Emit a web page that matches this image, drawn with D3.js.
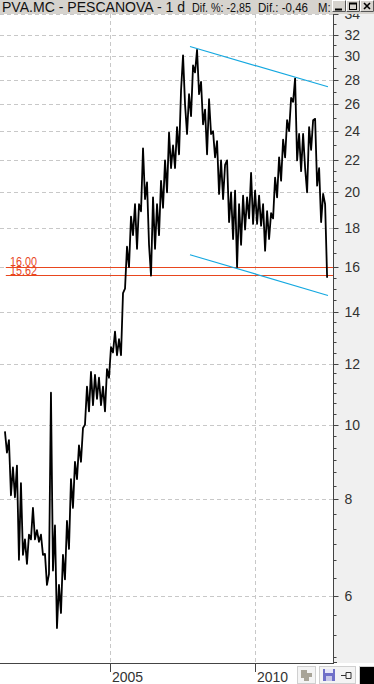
<!DOCTYPE html>
<html>
<head>
<meta charset="utf-8">
<script src="https://cdn.jsdelivr.net/npm/d3@7"></script>
<style>
	body { margin: 0; background: #fff; overflow: hidden; }
	svg { display: block; font-family: "Liberation Sans", Arial, sans-serif; }
</style>
</head>
<body>
<div id="chart"></div>
<script>
// PVA.MC daily closes, sampled roughly every 25 days
const firstDate		= new Date(2001, 4, 19);
const stepDays		= 25.2;
const closes		= [
	9.8, 9.2, 9.55, 8.1, 8.8, 8.05, 8.85, 6.68, 8.4, 6.78,
	7.1, 6.6, 7.2, 7.1, 7.8, 7.1, 7.3, 7.05, 7.2, 6.78,
	6.8, 6.2, 6.4, 11.0, 6.47, 7.4, 5.45, 6.2, 5.7, 6.78,
	6.3, 7.5, 6.9, 8.5, 7.8, 8.95, 8.5, 9.4, 8.95, 9.9,
	10.0, 11.2, 10.4, 11.7, 10.6, 11.6, 10.8, 11.5, 10.6, 11.2,
	10.4, 11.8, 11.5, 12.6, 12.4, 13.2, 12.3, 12.9, 12.3, 14.8,
	15.0, 17.0, 16.0, 18.6, 17.6, 19.3, 16.9, 19.3, 18.9, 22.8,
	19.6, 20.6, 17.1, 15.6, 19.7, 16.9, 19.3, 17.6, 20.7, 19.1,
	22.0, 20.0, 23.9, 21.5, 23.0, 21.5, 24.3, 22.4, 27.1, 30.1,
	26.0, 23.8, 26.8, 25.1, 29.2, 28.6, 30.6, 26.8, 27.8, 24.5,
	25.6, 22.4, 26.4, 23.8, 24.0, 22.2, 23.3, 19.9, 22.0, 19.6,
	21.7, 22.0, 18.3, 20.0, 17.4, 20.1, 16.0, 19.3, 17.1, 19.8,
	17.9, 19.7, 18.5, 21.2, 18.2, 20.1, 18.2, 19.8, 18.1, 19.3,
	16.8, 18.9, 17.4, 18.8, 18.5, 20.9, 19.7, 22.2, 20.7, 23.4,
	22.2, 24.8, 24.0, 26.5, 26.2, 28.1, 22.0, 23.8, 21.3, 23.8,
	21.5, 20.0, 24.3, 22.7, 24.8, 24.9, 20.4, 21.5, 18.3, 19.9,
	19.3, 15.5
];

const yMajor		= [6, 8, 10, 12, 14, 16, 18, 20, 22, 24, 26, 28, 30, 32, 34];
const yMinor		= [5, 5.33, 5.67, 6.33, 6.67, 7, 7.33, 7.67, 8.33, 8.67, 9, 9.33, 9.67,
	10.33, 10.67, 11, 11.33, 11.67, 12.4, 12.8, 13.2, 13.6, 14.5, 15, 15.5,
	16.67, 17.33, 18.67, 19.33, 20.67, 21.33, 23, 25, 27, 29, 31, 33];
const xYears		= [2005, 2010];

const levels		= [16.00, 15.62];
const levelLabels	= ['16.00', '15.62'];
const levelStart	= new Date(2001, 4, 30);

const channelDates	= [new Date(2007, 9, 5), new Date(2012, 6, 8)];
const channelUpper	= [30.9, 27.4];
const channelLower	= [16.6, 14.7];

const titleParts	= ['PVA.MC - PESCANOVA - 1 d', 'Dif. %: -2,85', 'Dif.: -0,46', 'M: 1'];

const W = 374, H = 684;
const plotRight = 333, plotBottom = 663, barH = 14;

let svg = d3.select('#chart').append('svg')
	.attr('width', W)
	.attr('height', H);

let x = d3.scaleTime().domain([new Date(2005, 0, 1), new Date(2010, 0, 1)]).range([110, 255]);
let y = d3.scaleLog().domain([4.91, 35.5]).range([plotBottom, 0]);

svg.append('rect').attr('width', W).attr('height', H).attr('fill', '#fff');

// right axis panel
svg.append('rect')
	.attr('x', plotRight + 1).attr('y', 0)
	.attr('width', W - plotRight - 1).attr('height', plotBottom)
	.attr('fill', '#f0f0f0');

svg.append('clipPath').attr('id', 'plot-clip')
	.append('rect').attr('x', 0).attr('y', 0).attr('width', plotRight).attr('height', plotBottom);

let plot = svg.append('g').attr('clip-path', 'url(#plot-clip)');

// grid
plot.append('g').selectAll('line')
	.data(yMajor).enter().append('line')
	.attr('x1', 0).attr('x2', plotRight)
	.attr('y1', (d) => Math.round(y(d)) + 0.5).attr('y2', (d) => Math.round(y(d)) + 0.5)
	.attr('stroke', '#c8c8c8').attr('stroke-dasharray', '4,3');

plot.append('g').selectAll('line')
	.data(xYears).enter().append('line')
	.attr('x1', (d) => Math.round(x(new Date(d, 0, 1))) + 0.5)
	.attr('x2', (d) => Math.round(x(new Date(d, 0, 1))) + 0.5)
	.attr('y1', 0).attr('y2', plotBottom)
	.attr('stroke', '#c8c8c8').attr('stroke-dasharray', '4,3');

// support levels
plot.append('g').selectAll('line')
	.data(levels).enter().append('line')
	.attr('x1', x(levelStart)).attr('x2', plotRight)
	.attr('y1', (d) => Math.round(y(d)) + 0.5).attr('y2', (d) => Math.round(y(d)) + 0.5)
	.attr('stroke', '#e8461e').attr('stroke-width', 1);

plot.append('g').selectAll('text')
	.data(levels).enter().append('text')
	.attr('x', 10).attr('y', (d, i) => Math.round(y(d)) - 1 + i)
	.attr('font-size', 12).attr('fill', '#e8461e')
	.attr('textLength', 27).attr('lengthAdjust', 'spacingAndGlyphs')
	.text((d, i) => levelLabels[i]);

// price
let points = closes.map((v, i) => ({ date: d3.timeHour.offset(firstDate, Math.round(i * stepDays * 24)), v: v }));
let line = d3.line().x((d) => x(d.date)).y((d) => y(d.v));

plot.append('path')
	.datum(points)
	.attr('d', line)
	.attr('fill', 'none')
	.attr('stroke', '#000')
	.attr('stroke-width', 1.8)
	.attr('stroke-linejoin', 'round');

// channel
[channelUpper, channelLower].forEach((vals) => {
	plot.append('line')
		.attr('x1', x(channelDates[0])).attr('y1', y(vals[0]))
		.attr('x2', x(channelDates[1])).attr('y2', y(vals[1]))
		.attr('stroke', '#14a8e0').attr('stroke-width', 1.2);
});

// right axis
let axisY = svg.append('g').attr('transform', 'translate(' + (plotRight + 0.5) + ',0)');
axisY.append('line').attr('y1', 0).attr('y2', plotBottom + 1).attr('stroke', '#444');
axisY.selectAll('.minor')
	.data(yMinor).enter().append('line')
	.attr('x1', 0).attr('x2', 3)
	.attr('y1', (d) => Math.round(y(d)) + 0.5).attr('y2', (d) => Math.round(y(d)) + 0.5)
	.attr('stroke', '#444');
axisY.selectAll('.major')
	.data(yMajor).enter().append('line')
	.attr('x1', 0).attr('x2', 5)
	.attr('y1', (d) => Math.round(y(d)) + 0.5).attr('y2', (d) => Math.round(y(d)) + 0.5)
	.attr('stroke', '#444');
axisY.selectAll('text')
	.data(yMajor).enter().append('text')
	.attr('x', 11).attr('y', (d) => y(d) + 5)
	.attr('font-size', 14).attr('fill', '#333')
	.text((d) => d);

// bottom axis
let axisX = svg.append('g');
axisX.append('line')
	.attr('x1', 0).attr('x2', plotRight + 1)
	.attr('y1', plotBottom + 0.5).attr('y2', plotBottom + 0.5)
	.attr('stroke', '#444');
axisX.append('line')
	.attr('x1', plotRight).attr('x2', plotRight + 4)
	.attr('y1', plotBottom - 0.5).attr('y2', plotBottom - 0.5)
	.attr('stroke', '#444');
axisX.selectAll('.tick')
	.data(xYears).enter().append('line')
	.attr('x1', (d) => Math.round(x(new Date(d, 0, 1))) + 0.5)
	.attr('x2', (d) => Math.round(x(new Date(d, 0, 1))) + 0.5)
	.attr('y1', plotBottom).attr('y2', plotBottom + 9)
	.attr('stroke', '#444');
axisX.selectAll('text')
	.data(xYears).enter().append('text')
	.attr('x', (d) => x(new Date(d, 0, 1)) + 2)
	.attr('y', 682)
	.attr('font-size', 14).attr('fill', '#333')
	.text((d) => d);

// bottom-right toolbar
let tools = svg.append('g');
tools.append('rect').attr('x', 297.5).attr('y', 666.5).attr('width', 18).attr('height', 17)
	.attr('fill', '#f4f4f4').attr('stroke', '#d0d0d0');
tools.append('path').attr('d', 'M301,670h6v3h5v4h-3v4h-5v-3h-3z').attr('fill', '#a8a498');
tools.append('rect').attr('x', 319.5).attr('y', 666.5).attr('width', 36).attr('height', 17)
	.attr('fill', '#f4f4f4').attr('stroke', '#d0d0d0');
tools.append('rect').attr('x', 323).attr('y', 669).attr('width', 12).attr('height', 12).attr('fill', '#7070c8');
tools.append('rect').attr('x', 325).attr('y', 669).attr('width', 8).attr('height', 4).attr('fill', '#e8e8f8');
tools.append('rect').attr('x', 326).attr('y', 676).attr('width', 6).attr('height', 5).attr('fill', '#c8c8e8');
tools.append('path').attr('d', 'M341,675.5h5M346,672.5v6h5v-6z').attr('fill', 'none').attr('stroke', '#333');
tools.append('rect').attr('x', 359.5).attr('y', 666.5).attr('width', 15).attr('height', 18)
	.attr('fill', '#000').attr('stroke', '#d0d0d0');

// title bar
let bar = svg.append('g');
bar.append('rect').attr('width', W).attr('height', barH).attr('fill', '#d6d3ce');
bar.selectAll('text')
	.data(titleParts).enter().append('text')
	.attr('x', (d, i) => [2, 192, 258, 318][i])
	.attr('y', 12)
	.attr('font-size', (d, i) => i ? 12 : 14).attr('fill', '#111')
	.attr('textLength', (d, i) => [183, 59, 50, 22][i])
	.attr('lengthAdjust', 'spacingAndGlyphs')
	.text((d) => d);

let btns = bar.append('g');
[332, 346, 360].forEach((bx, i) => {
	btns.append('rect').attr('x', bx + 0.5).attr('y', 0.5).attr('width', 13).attr('height', 11)
		.attr('fill', '#d6d3ce').attr('stroke', '#fff');
	btns.append('path').attr('d', 'M' + (bx + 0.5) + ',11.5h13v-11').attr('fill', 'none').attr('stroke', '#555');
});
btns.append('path').attr('d', 'M335,9.5h7').attr('stroke', '#000').attr('stroke-width', 2);
btns.append('rect').attr('x', 349.5).attr('y', 3.5).attr('width', 7).attr('height', 6)
	.attr('fill', 'none').attr('stroke', '#000');
btns.append('path').attr('d', 'M349,3.5h8').attr('stroke', '#000').attr('stroke-width', 2);
btns.append('path').attr('d', 'M364,3l6,6M370,3l-6,6').attr('stroke', '#000').attr('stroke-width', 1.6);
</script>
</body>
</html>
